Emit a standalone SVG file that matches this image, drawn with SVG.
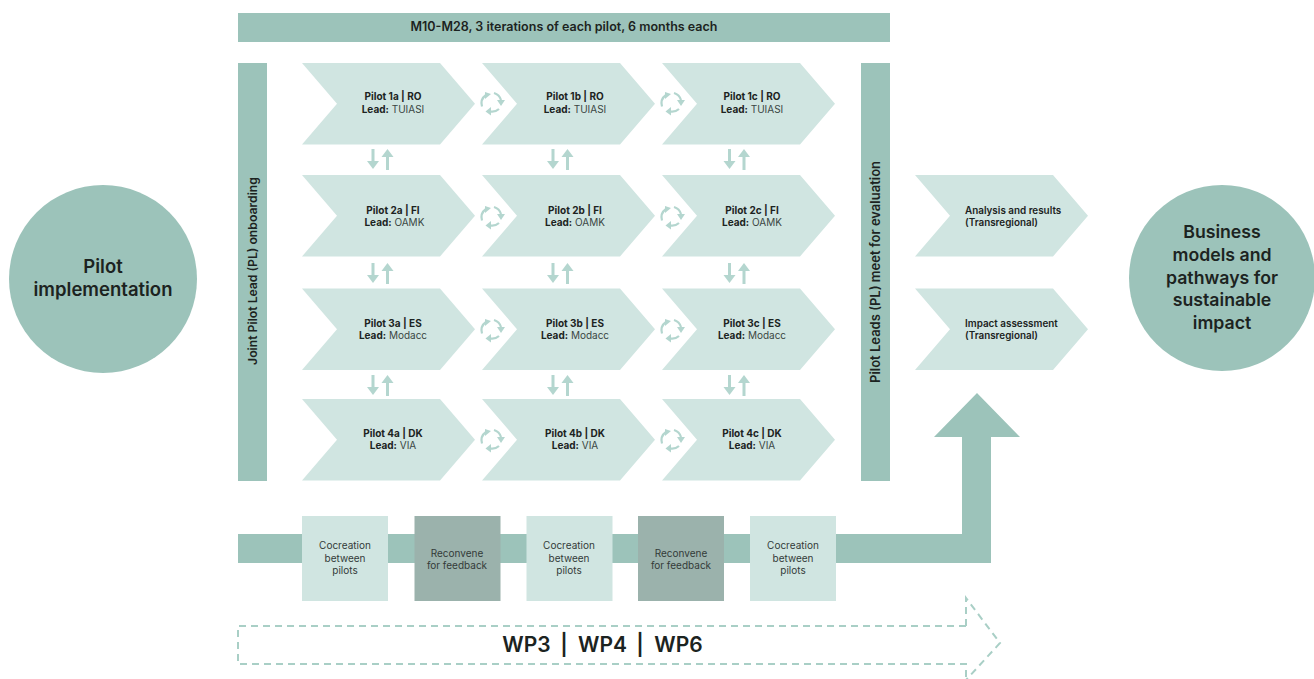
<svg xmlns="http://www.w3.org/2000/svg" xmlns:xlink="http://www.w3.org/1999/xlink" width="1314" height="679" viewBox="0 0 1314 679">
<style>
text{font-family:"Inter","Liberation Sans",sans-serif;fill:#1c2321}
.bar{fill:#9cc3ba}.lt{fill:#d0e5e1}.dk{fill:#9bb2ac}
.p{font-size:10px;text-anchor:middle;font-weight:400;fill:#3a4543}
.p .b,.o .b{font-weight:700;fill:#1c2321}
.o{font-size:9.900px;font-weight:600}
.s{font-size:10px;text-anchor:middle;fill:#333b39}
.h{font-weight:600;text-anchor:middle}
.ic{fill:none;stroke:#b4d6cf;stroke-width:2.200}
.iv{fill:none;stroke:#b4d6cf;stroke-width:3}
.ih{fill:#b4d6cf}
</style>
<defs>
<polygon id="chev" points="0,0 138,0 173,40.750 138,81.500 0,81.500 35,40.750"/>
<g id="cyc">
<path class="ic" d="M-10,3.500 A10.500,10.500 0 0 1 -6,-8"/><path class="ih" d="M-7,-11 L-1,-9 L-7,-4Z"/>
<path class="ic" d="M2,-10 A10.500,10.500 0 0 1 9,-3"/><path class="ih" d="M5,-3 L13,-3 L9,3Z"/>
<path class="ic" d="M7,6 A10.500,10.500 0 0 1 -2,8.500"/><path class="ih" d="M-1,4 L-6.500,8.500 L-1,12.500Z"/>
</g>
<g id="ud">
<path class="iv" d="M0,0V16M14.500,4V21"/><path class="ih" d="M-6,12 L6,12 L0,20Z M8.500,8 L20.500,8 L14.500,0Z"/>
</g>
</defs>
<g id="connectors">
<path id="flow-arrow" class="bar" d="M238,534H962V437H934L977,393L1020,437H991V563H238Z"/>
<path id="wp-arrow" fill="none" stroke="#a9cfc6" stroke-width="2" stroke-dasharray="7 5" d="M966,626H238V664H966V680M966,626V598L1000,643L966,680"/>
<g id="cycles">
<use xlink:href="#cyc" x="492" y="103"/><use xlink:href="#cyc" x="672" y="103"/>
<use xlink:href="#cyc" x="492" y="217"/><use xlink:href="#cyc" x="672" y="217"/>
<use xlink:href="#cyc" x="492" y="330"/><use xlink:href="#cyc" x="672" y="330"/>
<use xlink:href="#cyc" x="492" y="440"/><use xlink:href="#cyc" x="672" y="440"/>
</g>
<g id="exchange">
<use xlink:href="#ud" x="373" y="149"/><use xlink:href="#ud" x="553" y="149"/><use xlink:href="#ud" x="729.500" y="149"/>
<use xlink:href="#ud" x="373" y="263"/><use xlink:href="#ud" x="553" y="263"/><use xlink:href="#ud" x="729.500" y="263"/>
<use xlink:href="#ud" x="373" y="375"/><use xlink:href="#ud" x="553" y="375"/><use xlink:href="#ud" x="729.500" y="375"/>
</g>
</g>
<g id="pilot-implementation"><circle class="bar" cx="103" cy="279" r="94"/><text class="h" font-size="18.500"><tspan x="103" y="273">Pilot</tspan><tspan x="103" y="296">implementation</tspan></text></g>
<g id="business-models"><circle class="bar" cx="1222" cy="278" r="93"/><text class="h" font-size="17.700"><tspan x="1222" y="238">Business</tspan><tspan x="1222" y="261">models and</tspan><tspan x="1222" y="284">pathways for</tspan><tspan x="1222" y="306">sustainable</tspan><tspan x="1222" y="329">impact</tspan></text></g>
<g id="timeline"><rect class="bar" x="238" y="13" width="652" height="29"/><text class="h" font-size="12.500" x="564" y="31">M10-M28, 3 iterations of each pilot, 6 months each</text></g>
<g id="onboarding"><rect class="bar" x="238" y="63" width="29" height="418"/><text class="h" font-size="12.200" transform="translate(256.500,271) rotate(-90)">Joint Pilot Lead (PL) onboarding</text></g>
<g id="evaluation"><rect class="bar" x="861" y="63" width="29" height="418"/><text class="h" font-size="13" transform="translate(880,272) rotate(-90)">Pilot Leads (PL) meet for evaluation</text></g>

<g id="pilot-1a"><use class="lt" xlink:href="#chev" x="302" y="63"/><text class="p"><tspan class="b" x="393" y="100">Pilot 1a | RO</tspan><tspan x="393" y="112.500"><tspan class="b">Lead:</tspan> TUIASI</tspan></text></g>
<g id="pilot-1b"><use class="lt" xlink:href="#chev" x="482" y="63"/><text class="p"><tspan class="b" x="575" y="100">Pilot 1b | RO</tspan><tspan x="575" y="112.500"><tspan class="b">Lead:</tspan> TUIASI</tspan></text></g>
<g id="pilot-1c"><use class="lt" xlink:href="#chev" x="662" y="63"/><text class="p"><tspan class="b" x="752" y="100">Pilot 1c | RO</tspan><tspan x="752" y="112.500"><tspan class="b">Lead:</tspan> TUIASI</tspan></text></g>
<g id="pilot-2a"><use class="lt" xlink:href="#chev" x="302" y="175"/><text class="p"><tspan class="b" x="393" y="213.500">Pilot 2a | FI</tspan><tspan x="393" y="226">
<tspan class="b">Lead:</tspan> OAMK</tspan></text></g>
<g id="pilot-2b"><use class="lt" xlink:href="#chev" x="482" y="175"/><text class="p"><tspan class="b" x="575" y="213.500">Pilot 2b | FI</tspan><tspan x="575" y="226"><tspan class="b">Lead:</tspan> OAMK</tspan></text></g>
<g id="pilot-2c"><use class="lt" xlink:href="#chev" x="662" y="175"/><text class="p"><tspan class="b" x="752" y="213.500">Pilot 2c | FI</tspan><tspan x="752" y="226"><tspan class="b">Lead:</tspan> OAMK</tspan></text></g>
<g id="pilot-3a"><use class="lt" xlink:href="#chev" x="302" y="288.500"/><text class="p"><tspan class="b" x="393" y="326.500">Pilot 3a | ES</tspan><tspan x="393" y="339"><tspan class="b">Lead:</tspan> Modacc</tspan></text></g>
<g id="pilot-3b"><use class="lt" xlink:href="#chev" x="482" y="288.500"/><text class="p"><tspan class="b" x="575" y="326.500">Pilot 3b | ES</tspan><tspan x="575" y="339"><tspan class="b">Lead:</tspan> Modacc</tspan></text></g>
<g id="pilot-3c"><use class="lt" xlink:href="#chev" x="662" y="288.500"/><text class="p"><tspan class="b" x="752" y="326.500">Pilot 3c | ES</tspan><tspan x="752" y="339"><tspan class="b">Lead:</tspan> Modacc</tspan></text></g>
<g id="pilot-4a"><use class="lt" xlink:href="#chev" x="302" y="399"/><text class="p"><tspan class="b" x="393" y="436.500">Pilot 4a | DK</tspan><tspan x="393" y="449"><tspan class="b">Lead:</tspan> VIA</tspan></text></g>
<g id="pilot-4b"><use class="lt" xlink:href="#chev" x="482" y="399"/><text class="p"><tspan class="b" x="575" y="436.500">Pilot 4b | DK</tspan><tspan x="575" y="449"><tspan class="b">Lead:</tspan> VIA</tspan></text></g>
<g id="pilot-4c"><use class="lt" xlink:href="#chev" x="662" y="399"/><text class="p"><tspan class="b" x="752" y="436.500">Pilot 4c | DK</tspan><tspan x="752" y="449"><tspan class="b">Lead:</tspan> VIA</tspan></text></g>

<g id="analysis"><use class="lt" xlink:href="#chev" x="915" y="175"/><text class="o"><tspan x="965" y="213.500">Analysis and results</tspan><tspan x="965" y="226">(Transregional)</tspan></text></g>
<g id="impact"><use class="lt" xlink:href="#chev" x="915" y="288.500"/><text class="o"><tspan x="965" y="326.500">Impact assessment</tspan><tspan x="965" y="339">(Transregional)</tspan></text></g>

<g id="cocreation-1"><rect class="lt" x="302" y="516" width="86" height="85"/><text class="s"><tspan x="345" y="549">Cocreation</tspan><tspan x="345" y="561.500">between</tspan><tspan x="345" y="574">pilots</tspan></text></g>
<g id="reconvene-1"><rect class="dk" x="414.500" y="516" width="86" height="85"/><text class="s"><tspan x="457" y="556.500">Reconvene</tspan><tspan x="457" y="569">for feedback</tspan></text></g>
<g id="cocreation-2"><rect class="lt" x="526.500" y="516" width="86" height="85"/><text class="s"><tspan x="569" y="549">Cocreation</tspan><tspan x="569" y="561.500">between</tspan><tspan x="569" y="574">pilots</tspan></text></g>
<g id="reconvene-2"><rect class="dk" x="638" y="516" width="86" height="85"/><text class="s"><tspan x="681" y="556.500">Reconvene</tspan><tspan x="681" y="569">for feedback</tspan></text></g>
<g id="cocreation-3"><rect class="lt" x="750" y="516" width="86" height="85"/><text class="s"><tspan x="793" y="549">Cocreation</tspan><tspan x="793" y="561.500">between</tspan><tspan x="793" y="574">pilots</tspan></text></g>
<g id="wp-label"><text class="h" font-size="21" y="652"><tspan x="526.500">WP3</tspan><tspan x="564">|</tspan><tspan x="602.500">WP4</tspan><tspan x="640">|</tspan><tspan x="678.500">WP6</tspan></text></g>
</svg>
